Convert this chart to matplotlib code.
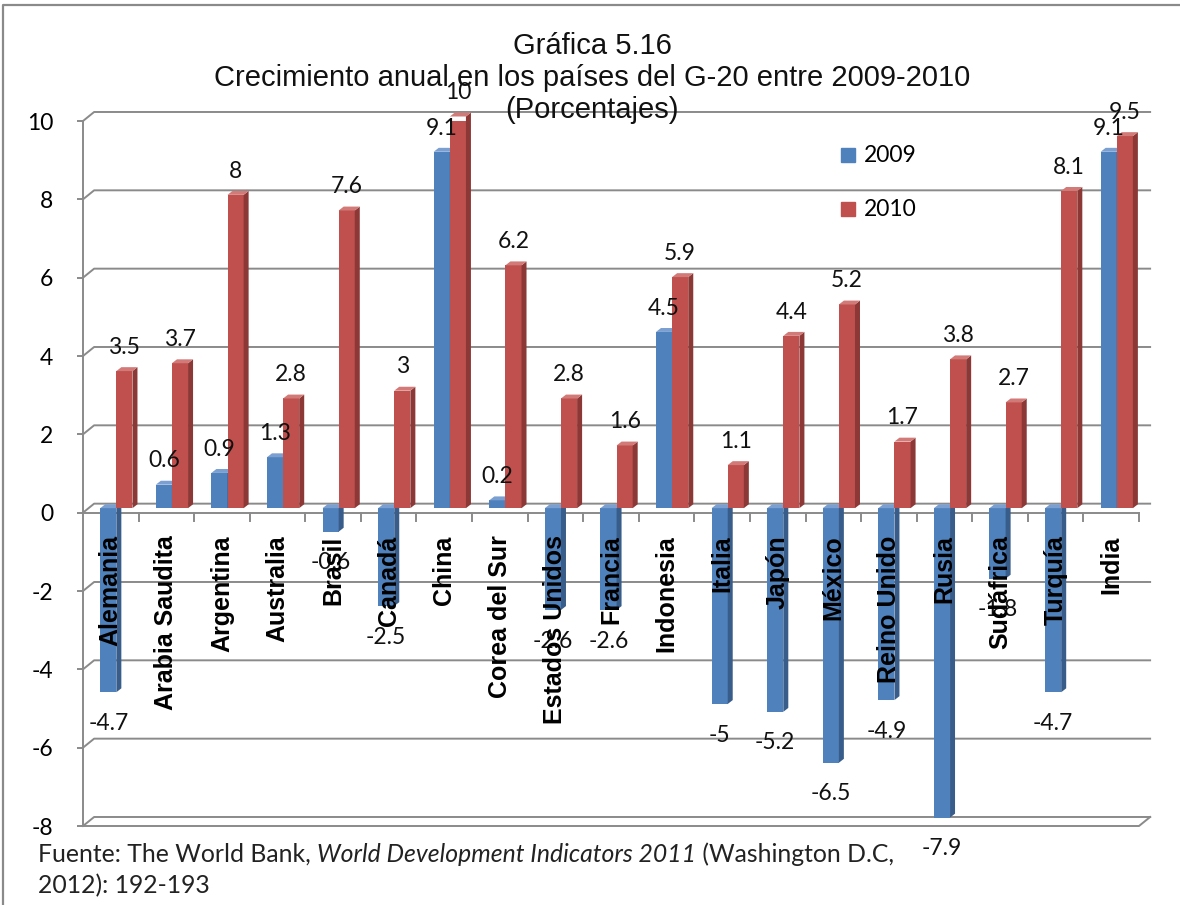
import matplotlib
matplotlib.use("Agg")
import matplotlib.pyplot as plt
from matplotlib.patches import Polygon, Rectangle
from matplotlib.lines import Line2D

plt.rcParams['font.family'] = ['Lato', 'DejaVu Sans']

paises = ["Alemania", "Arabia Saudita", "Argentina", "Australia", "Brasil",
          "Canadá", "China", "Corea del Sur", "Estados Unidos", "Francia",
          "Indonesia", "Italia", "Japón", "México", "Reino Unido", "Rusia",
          "Sudáfrica", "Turquía", "India"]
v2009 = [-4.7, 0.6, 0.9, 1.3, -0.6, -2.5, 9.1, 0.2, -2.6, -2.6, 4.5,
         -5, -5.2, -6.5, -4.9, -7.9, -1.8, -4.7, 9.1]
v2010 = [3.5, 3.7, 8, 2.8, 7.6, 3, 10, 6.2, 2.8, 1.6, 5.9,
         1.1, 4.4, 5.2, 1.7, 3.8, 2.7, 8.1, 9.5]
yticks = [-8, -6, -4, -2, 0, 2, 4, 6, 8, 10]

W, H = 1180, 905
fig = plt.figure(figsize=(W / 100, H / 100), dpi=100)
ax = fig.add_axes([83 / W, 79 / H, 1056 / W, 705 / H])
n = len(paises)
ax.set_xlim(0, n)
ax.set_ylim(-8, 10)

grid_c = "#8a8a8a"
DX, DY = 0.2, 0.23        # depth of the 3D box
bw = 0.29                 # bar front width
bdx, bdy = 0.09, 0.1      # bar depth

# left axis, ticks, labels
for s in ["top", "right", "bottom"]:
    ax.spines[s].set_visible(False)
ax.spines["left"].set_color(grid_c)
ax.spines["left"].set_linewidth(1.4)
ax.set_xticks([])
ax.set_yticks(yticks)
ax.set_yticklabels([str(v) for v in yticks])
ax.tick_params(axis="y", direction="out", length=4.5, width=1.4, color=grid_c,
               pad=17, labelsize=16.5)

# walls / gridlines
for v in yticks:
    ax.add_line(Line2D([0, DX, n + DX], [v, v + DY, v + DY], color=grid_c, lw=1.4,
                       clip_on=False, zorder=1))
ax.add_line(Line2D([0, n], [0, 0], color=grid_c, lw=1.4, clip_on=False, zorder=1.5))
ax.add_line(Line2D([0, n, n + DX], [-8, -8, -8 + DY], color=grid_c, lw=1.4,
                   clip_on=False, zorder=1.5))
for i in range(1, n + 1):
    ax.add_line(Line2D([i, i], [0, -0.2], color=grid_c, lw=1.4, clip_on=False, zorder=1.5))

series = [(v2009, -bw, "#4f81bd", "#385d8a", "#7a9fd0"),
          (v2010, 0.0, "#c0504d", "#8c3836", "#d27a77")]
base = DY / 2
for vals, off, cf, cs, ct in series:
    lefts = [i + 0.5 + DX / 2 + off for i in range(n)]
    ax.bar(lefts, vals, width=bw, bottom=base, align="edge", color=cf,
           linewidth=0, zorder=3)
    for l, v in zip(lefts, vals):
        r = l + bw
        top = max(v, 0) + base
        low = min(v, 0) + base
        ax.add_patch(Polygon([(r, low), (r, top), (r + bdx, top + bdy), (r + bdx, low + bdy)],
                             closed=True, color=cs, lw=0, zorder=3, clip_on=False))
        ax.add_patch(Polygon([(l, top), (r, top), (r + bdx, top + bdy), (l + bdx, top + bdy)],
                             closed=True, color=ct, lw=0, zorder=3, clip_on=False))
        if v >= 0:
            ax.text(l + bw / 2, v + 0.72, f"{v:g}", ha="center", va="center",
                    fontsize=16.5, color="#111111", zorder=6)
        else:
            ax.text(l + bw / 2, v - 0.68, f"{v:g}", ha="center", va="center",
                    fontsize=16.5, color="#111111", zorder=6, clip_on=False)

# category labels
for i, p in enumerate(paises):
    ax.text(i + 0.5, -0.58, p, rotation=90, ha="center", va="top",
            fontsize=18, fontweight="bold", family="Liberation Sans", zorder=7)

# title
fig.text(592 / W, 1 - 78 / H, "Gráfica 5.16\nCrecimiento anual en los países del G-20 entre 2009-2010\n(Porcentajes)",
         ha="center", va="center", fontsize=21, family="Liberation Sans",
         linespacing=1.2, color="#111111")

# legend
for y, lab, c in [(155, "2009", "#4f81bd"), (209, "2010", "#c0504d")]:
    fig.patches.append(Rectangle((841 / W, 1 - (y + 7) / H), 14 / W, 14 / H,
                                 transform=fig.transFigure, color=c))
    fig.text(864 / W, 1 - y / H, lab, ha="left", va="center", fontsize=16.5)

# source note
fs = 17.8
t1 = fig.text(38 / W, 1 - 866 / H, "Fuente: The World Bank, ", fontsize=fs,
              color="#222222", va="bottom")
t2 = ax.annotate("World Development Indicators 2011", xy=(1, 0), xycoords=t1,
                 fontsize=fs, style="italic", color="#222222", va="bottom",
                 annotation_clip=False)
ax.annotate(" (Washington D.C,", xy=(1, 0), xycoords=t2, fontsize=fs,
            color="#222222", va="bottom", annotation_clip=False)
fig.text(38 / W, 1 - 897 / H, "2012): 192-193", fontsize=fs, color="#222222", va="bottom")

# outer frame
fig.add_artist(Line2D([3 / W, 3 / W, 1], [0, 1 - 5 / H, 1 - 5 / H],
                      transform=fig.transFigure, color="#8a8a8a", lw=1.6))

fig.savefig("out.png", dpi=100)
